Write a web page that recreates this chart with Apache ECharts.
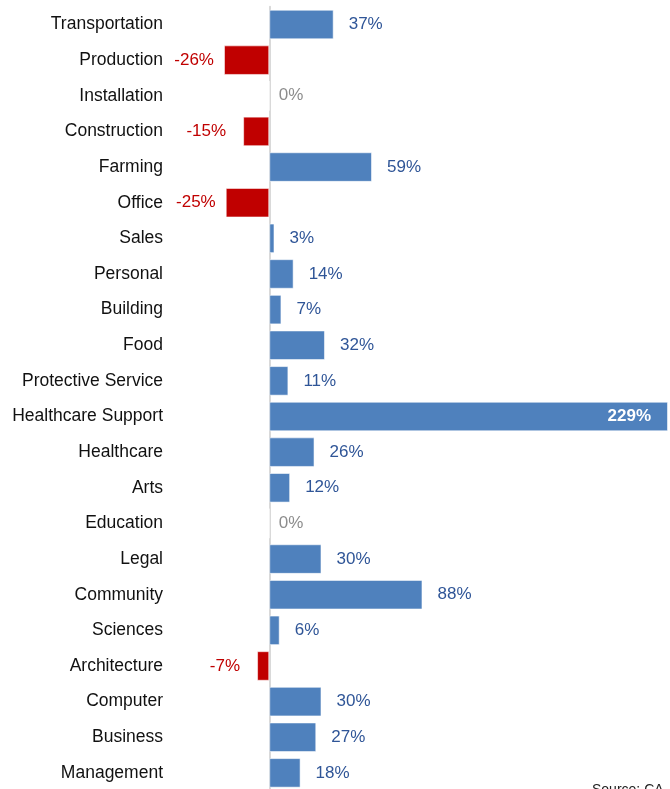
<!DOCTYPE html>
<html>
<head>
<meta charset="utf-8">
<script src="https://cdn.jsdelivr.net/npm/echarts@6/dist/echarts.min.js"></script>
<style>
html,body{margin:0;padding:0;background:#fff;overflow:hidden;width:670px;height:789px;}
#c{width:670px;height:796px;}
</style>
</head>
<body>
<div id="c"></div>
<script>
const categories = ["Transportation","Production","Installation","Construction","Farming","Office","Sales","Personal","Building","Food","Protective Service","Healthcare Support","Healthcare","Arts","Education","Legal","Community","Sciences","Architecture","Computer","Business","Management"];
const values = [37,-26,0,-15,59,-25,3,14,7,32,11,229,26,12,0,30,88,6,-7,30,27,18];
const sourceText = "Source: CA";

const BLUE = '#4F81BD', RED = '#C00000';
const data = values.map(v => {
  const item = { value: v, itemStyle: { color: v < 0 ? RED : BLUE } };
  if (v >= 200) {
    item.label = { position: 'insideRight', distance: 17, color: '#fff', fontWeight: 'bold' };
  } else if (v < 0) {
    item.label = { position: 'left', distance: v > -20 ? 17 : 10, color: RED };
  } else if (v === 0) {
    item.label = { position: 'right', distance: 9, color: '#8c8c8c' };
  } else {
    item.label = { position: 'right', distance: 15, color: '#2F5597' };
  }
  return item;
});

const chart = echarts.init(document.getElementById('c'));
chart.setOption({
  animation: false,
  grid: { left: 170, right: 2, top: 6.7, height: 784, containLabel: false },
  xAxis: {
    type: 'value', min: -57, max: 229, show: false
  },
  yAxis: {
    type: 'category', data: categories, inverse: true,
    axisLine: { show: true, onZero: true, lineStyle: { color: '#d9d9d9', width: 2 } },
    axisTick: { show: false },
    axisLabel: { color: '#111', fontSize: 17.5, fontFamily: 'Liberation Sans, Arial, sans-serif', margin: 7 },
    splitLine: { show: false }
  },
  series: [{
    type: 'bar',
    data: data,
    barCategoryGap: '17%',
    itemStyle: { borderColor: 'rgba(255,255,255,0.55)', borderWidth: 1 },
    label: {
      show: true,
      fontSize: 17,
      fontFamily: 'Liberation Sans, Arial, sans-serif',
      formatter: p => p.value + '%'
    },
    z: 1
  }],
  graphic: [{
    type: 'text', left: 592, top: 783,
    style: { text: sourceText, fontSize: 14, fill: '#222', fontFamily: 'Liberation Sans, Arial, sans-serif' }
  }]
});
</script>
</body>
</html>
